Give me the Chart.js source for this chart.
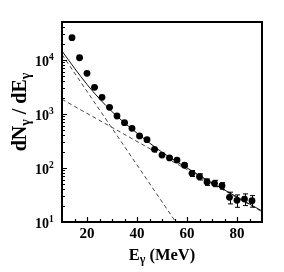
<!DOCTYPE html>
<html>
<head>
<meta charset="utf-8">
<script src="https://cdn.jsdelivr.net/npm/chart.js@4.4.1/dist/chart.umd.min.js"></script>
<style>
  html, body { margin: 0; padding: 0; background: #fff; }
  canvas { display: block; }
</style>
</head>
<body>
<canvas id="chart" width="284" height="272"></canvas>
<script>
// ── Data ─────────────────────────────────────────────────────────────
const energies    = [14, 17, 20, 23, 26, 29, 32, 35, 38, 41, 44, 47, 50,
                     53, 56, 59, 62, 65, 68, 71, 74, 77, 80, 83, 86];
const yields      = [25600, 10900, 5620, 3100, 2020, 1320, 913, 687, 541, 390, 333, 221, 173,
                     153, 140, 112, 79.6, 68.8, 55, 52, 46.9, 28.6, 25.2, 26.6, 24.8];
const yieldErrors = [500, 250, 120, 70, 45, 30, 22, 17, 14, 10, 9, 6, 5,
                     6, 6, 7, 10, 9, 7.5, 7, 6.5, 7, 6.5, 6.5, 6];

// total fit (solid) and its two components (dashed)
const fitEnergies     = [10, 15, 20, 25, 30, 35, 40, 45, 50, 60, 70, 80, 90];
const fitTotal        = [14500, 7000, 3500, 1900, 1100, 680, 440, 290, 195, 100, 53, 29, 16];
const steepEnergies   = [10, 55.5];
const steepValues     = [12500, 10];
const shallowEnergies = [10, 90];
const shallowValues   = [1860, 15.5];

// axes
const xMin = 10, xMax = 90;
const yMin = 10, yMax = 50000;
const xMajorTicks = [20, 40, 60, 80];
const xMinorTicks = [15, 25, 30, 35, 45, 50, 55, 65, 70, 75, 85];
const yExponents  = [1, 2, 3, 4];

const SERIF = '"Liberation Serif", "Times New Roman", serif';

function pairs(xs, ys) {
  return xs.map((x, i) => ({ x: x, y: ys[i] }));
}

// ── Error bars ───────────────────────────────────────────────────────
const errorBarPlugin = {
  id: 'errorBars',
  afterDatasetsDraw(chart) {
    const { ctx, scales: { x, y } } = chart;
    ctx.save();
    ctx.strokeStyle = '#000';
    ctx.lineWidth = 1;
    energies.forEach((e, i) => {
      const px = Math.round(x.getPixelForValue(e)) + 0.5;
      const top = y.getPixelForValue(yields[i] + yieldErrors[i]);
      const bot = y.getPixelForValue(Math.max(yields[i] - yieldErrors[i], 1));
      ctx.beginPath();
      ctx.moveTo(px, top); ctx.lineTo(px, bot);
      ctx.moveTo(px - 2.5, top); ctx.lineTo(px + 2.5, top);
      ctx.moveTo(px - 2.5, bot); ctx.lineTo(px + 2.5, bot);
      ctx.stroke();
    });
    ctx.restore();
  }
};

// ── Frame, inward ticks, labels and titles ───────────────────────────
function drawSub(ctx, base, sub, x, y, size) {
  // base text followed by a lowered subscript; returns the end x
  ctx.font = 'bold ' + size + 'px ' + SERIF;
  const wBase = ctx.measureText(base).width;
  ctx.fillText(base, x, y);
  ctx.font = 'bold ' + Math.round(size * 0.72) + 'px ' + SERIF;
  const wSub = ctx.measureText(sub).width;
  ctx.fillText(sub, x + wBase, y + size * 0.2);
  return x + wBase + wSub;
}

const framePlugin = {
  id: 'frame',
  afterDraw(chart) {
    const { ctx, chartArea: a, scales: { x, y } } = chart;
    ctx.save();
    ctx.strokeStyle = '#000';
    ctx.fillStyle = '#000';

    // box
    ctx.lineWidth = 2;
    ctx.strokeRect(a.left, a.top, a.right - a.left, a.bottom - a.top);

    // x ticks (pointing up into the plot)
    ctx.lineWidth = 1.2;
    ctx.beginPath();
    xMajorTicks.forEach(v => {
      const px = Math.round(x.getPixelForValue(v)) + 0.5;
      ctx.moveTo(px, a.bottom); ctx.lineTo(px, a.bottom - 5);
    });
    xMinorTicks.forEach(v => {
      const px = Math.round(x.getPixelForValue(v)) + 0.5;
      ctx.moveTo(px, a.bottom); ctx.lineTo(px, a.bottom - 3);
    });
    // y ticks (pointing right into the plot)
    for (let d = 1; d <= 4; d++) {
      for (let m = 1; m <= 9; m++) {
        const v = m * Math.pow(10, d);
        if (v > yMax) continue;
        const py = Math.round(y.getPixelForValue(v)) + 0.5;
        ctx.moveTo(a.left, py); ctx.lineTo(a.left + (m === 1 ? 5 : 3), py);
      }
    }
    ctx.stroke();

    // x tick labels
    ctx.font = 'bold 15px ' + SERIF;
    ctx.textAlign = 'center';
    ctx.textBaseline = 'middle';
    xMajorTicks.forEach(v => {
      ctx.fillText(String(v), x.getPixelForValue(v), a.bottom + 12.5);
    });

    // y tick labels: 10 with superscript exponent
    ctx.textAlign = 'left';
    yExponents.forEach(p => {
      const py = y.getPixelForValue(Math.pow(10, p));
      ctx.font = 'bold 14px ' + SERIF;
      ctx.fillText('10', 35, py + 2.5);
      ctx.font = 'bold 9.5px ' + SERIF;
      ctx.fillText(String(p), 49, py - 2.5);
    });

    // x title: E_γ (MeV)
    ctx.textBaseline = 'alphabetic';
    ctx.font = 'bold 16.5px ' + SERIF;
    const full = ctx.measureText('E (MeV)').width;
    ctx.font = 'bold 12px ' + SERIF;
    const gW = ctx.measureText('γ').width;
    const end = drawSub(ctx, 'E', 'γ', 162 - (full + gW) / 2, 260, 16.5);
    ctx.font = 'bold 16.5px ' + SERIF;
    ctx.fillText(' (MeV)', end, 260);

    // y title: dN_γ / dE_γ, rotated
    ctx.translate(26, 112);
    ctx.rotate(-Math.PI / 2);
    const size = 20;
    ctx.font = 'bold ' + size + 'px ' + SERIF;
    const wA = ctx.measureText('dN').width + ctx.measureText(' / ').width + ctx.measureText('dE').width;
    ctx.font = 'bold ' + Math.round(size * 0.72) + 'px ' + SERIF;
    const wG = ctx.measureText('γ').width;
    let tx = -(wA + 2 * wG) / 2;
    tx = drawSub(ctx, 'dN', 'γ', tx, 0, size);
    ctx.font = 'bold ' + size + 'px ' + SERIF;
    ctx.fillText(' / ', tx, 0);
    tx += ctx.measureText(' / ').width;
    drawSub(ctx, 'dE', 'γ', tx, 0, size);

    ctx.restore();
  }
};

// ── Chart ────────────────────────────────────────────────────────────
new Chart(document.getElementById('chart'), {
  type: 'scatter',
  data: {
    datasets: [
      {
        data: pairs(energies, yields),
        pointRadius: 3.4,
        pointBackgroundColor: '#000',
        pointBorderColor: '#000',
        pointBorderWidth: 0,
        order: 0,
      },
      {
        data: pairs(fitEnergies, fitTotal),
        showLine: true,
        borderColor: '#111',
        borderWidth: 1,
        pointRadius: 0,
        cubicInterpolationMode: 'monotone',
        order: 1,
      },
      {
        data: pairs(steepEnergies, steepValues),
        showLine: true,
        borderColor: '#444',
        borderWidth: 1,
        borderDash: [4, 3],
        pointRadius: 0,
        order: 2,
      },
      {
        data: pairs(shallowEnergies, shallowValues),
        showLine: true,
        borderColor: '#444',
        borderWidth: 1,
        borderDash: [4, 3],
        pointRadius: 0,
        order: 3,
      },
    ],
  },
  options: {
    responsive: false,
    animation: false,
    devicePixelRatio: 1,
    layout: { padding: { left: 62, right: 22, top: 22, bottom: 50 } },
    plugins: {
      legend: { display: false },
      tooltip: { enabled: false },
    },
    scales: {
      x: { type: 'linear', min: xMin, max: xMax, display: false },
      y: { type: 'logarithmic', min: yMin, max: yMax, display: false },
    },
  },
  plugins: [errorBarPlugin, framePlugin],
});
</script>
</body>
</html>
